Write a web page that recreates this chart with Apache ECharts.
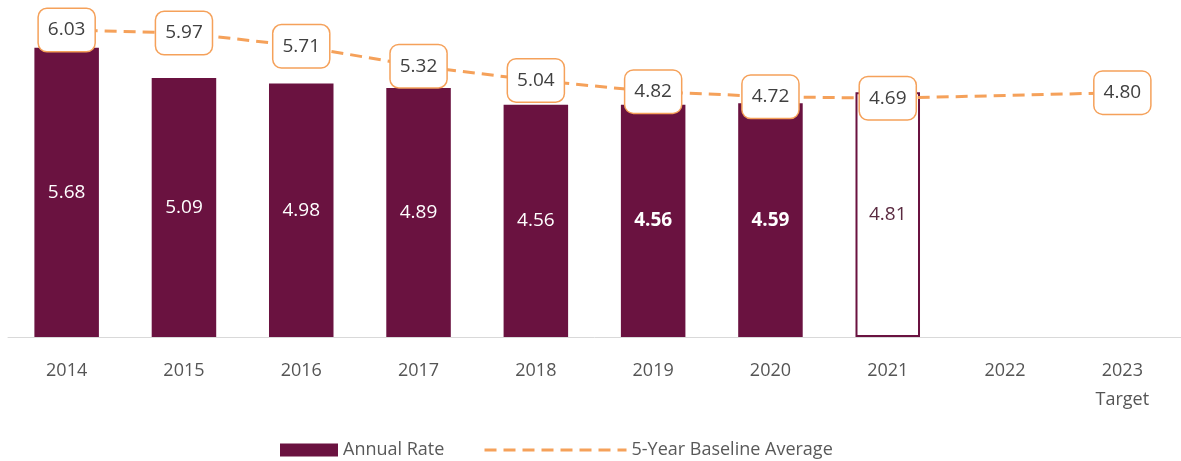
<!DOCTYPE html>
<html>
<head>
<meta charset="utf-8">
<script src="https://cdn.jsdelivr.net/npm/echarts@6/dist/echarts.min.js"></script>
<style>html,body{margin:0;padding:0;background:#fff;}#c{width:1181px;height:461px;}</style>
</head>
<body>
<div id="c"></div>
<script>
const categories = ['2014','2015','2016','2017','2018','2019','2020','2021','2022','2023\nTarget'];
const annualRate = [5.68, 5.09, 4.98, 4.89, 4.56, 4.56, 4.59, 4.81, null, null];
const baselineAvg = [6.03, 5.97, 5.71, 5.32, 5.04, 4.82, 4.72, 4.69, null, 4.80];
const boldYears = ['2019','2020'];
const outlineYears = ['2021'];

const MAROON = '#6a1240';
const ORANGE = '#f5a15a';
const FONT = 'Open Sans';

const barData = annualRate.map((v, i) => {
  const cat = categories[i];
  const d = { value: v };
  if (outlineYears.includes(cat)) {
    d.itemStyle = { color: '#ffffff', borderColor: MAROON, borderWidth: 2 };
    d.label = { color: '#5a2a40' };
  }
  if (boldYears.includes(cat)) {
    d.label = { fontWeight: 'bold' };
  }
  return d;
});

const chart = echarts.init(document.getElementById('c'));
chart.setOption({
  animation: false,
  textStyle: { fontFamily: FONT },
  grid: { left: 8, right: 0, top: 0, bottom: 124, containLabel: false },
  legend: [
    {
      data: [{ name: 'Annual Rate', icon: 'rect' }],
      left: 275, top: 436, itemWidth: 58, itemHeight: 13, itemGap: 6,
      textStyle: { fontFamily: FONT, fontSize: 18, color: '#595959' }
    },
    {
      data: [{ name: '5-Year Baseline Average', itemStyle: { color: 'rgba(0,0,0,0)', borderWidth: 0 } }],
      left: 478, top: 436, itemWidth: 142, itemHeight: 13, itemGap: 6,
      lineStyle: { color: ORANGE, width: 3, type: [12, 7] },
      textStyle: { fontFamily: FONT, fontSize: 18, color: '#595959' }
    }
  ],
  xAxis: {
    type: 'category',
    data: categories,
    axisTick: { show: false },
    axisLine: { lineStyle: { color: '#d9d9d9', width: 1 } },
    axisLabel: { fontFamily: FONT, fontSize: 18, color: '#555555', margin: 19, lineHeight: 29 }
  },
  yAxis: {
    type: 'value', min: 0, max: 6.62,
    show: false, splitLine: { show: false }
  },
  series: [
    {
      name: 'Annual Rate',
      type: 'bar',
      data: barData,
      barWidth: '55%',
      itemStyle: { color: MAROON },
      label: {
        show: true, position: 'inside', fontFamily: FONT, fontSize: 19, color: '#ffffff',
        formatter: p => p.value.toFixed(2)
      },
      z: 2
    },
    {
      name: '5-Year Baseline Average',
      type: 'line',
      data: baselineAvg,
      connectNulls: true,
      smooth: false,
      symbol: 'circle',
      symbolSize: 1,
      showSymbol: true,
      lineStyle: { color: ORANGE, width: 3, type: [12, 7] },
      itemStyle: { color: 'rgba(0,0,0,0)' },
      label: {
        show: true, position: 'inside', fontFamily: FONT, fontSize: 19, color: '#404040',
        backgroundColor: '#ffffff', borderColor: ORANGE, borderWidth: 1.5, borderRadius: 8,
        padding: [12, 9, 11, 9],
        formatter: p => p.value.toFixed(2)
      },
      z: 5
    }
  ]
});
</script>
</body>
</html>
